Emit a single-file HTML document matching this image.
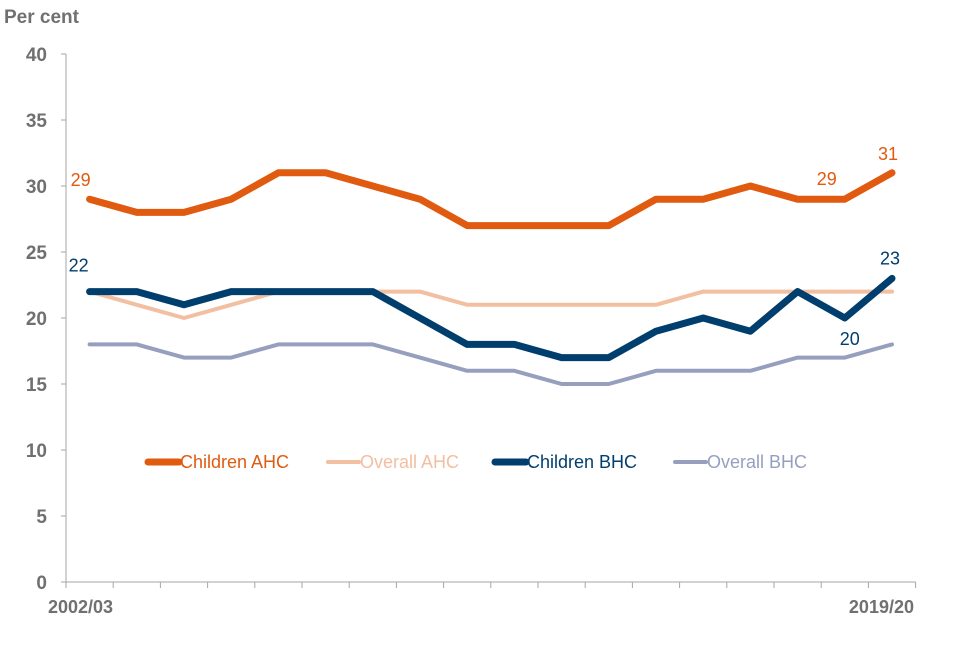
<!DOCTYPE html>
<html><head><meta charset="utf-8"><style>
body{margin:0;background:#fff;}
svg text{font-family:"Liberation Sans",Arial,sans-serif;}
</style></head><body>
<svg id="chart" width="960" height="640" xmlns="http://www.w3.org/2000/svg">
<text x="4" y="23" font-size="19" font-weight="bold" fill="#707070">Per cent</text>
<g id="yaxis"></g><g id="xaxis"></g><g id="series"></g><g id="legend"></g><g id="labels"></g>
</svg>
<script>
const categories=["2002/03","2003/04","2004/05","2005/06","2006/07","2007/08","2008/09","2009/10","2010/11","2011/12","2012/13","2013/14","2014/15","2015/16","2016/17","2017/18","2018/19","2019/20"];
const childrenAHC=[29,28,28,29,31,31,30,29,27,27,27,27,29,29,30,29,29,31];
const overallAHC=[22,21,20,21,22,22,22,22,21,21,21,21,21,22,22,22,22,22];
const childrenBHC=[22,22,21,22,22,22,22,20,18,18,17,17,19,20,19,22,20,23];
const overallBHC=[18,18,17,17,18,18,18,17,16,16,15,15,16,16,16,17,17,18];
const yTicks=[0,5,10,15,20,25,30,35,40];
const ns="http://www.w3.org/2000/svg";
const x0=66,x1=915.6,y0=582,y1=54;
const step=(x1-x0)/categories.length;
const X=i=>x0+step*(i+0.5);
const Y=v=>y0-(v/40)*(y0-y1);
function mk(t,a,p){const e=document.createElementNS(ns,t);for(const k in a)e.setAttribute(k,a[k]);p.appendChild(e);return e;}
const ya=document.getElementById('yaxis'),xa=document.getElementById('xaxis');
mk('line',{x1:x0,y1:y1,x2:x0,y2:y0,stroke:'#a6a6a6','stroke-width':1},ya);
yTicks.forEach(v=>{const t=mk('text',{x:47,y:Y(v)+7,'font-size':19,'font-weight':'bold',fill:'#707070','text-anchor':'end'},ya);t.textContent=v;


mk('line',{x1:x0-5,y1:Y(v),x2:x0,y2:Y(v),stroke:'#a6a6a6'},ya);});
mk('line',{x1:x0,y1:y0,x2:x1,y2:y0,stroke:'#a6a6a6'},xa);
for(let i=0;i<=categories.length;i++)mk('line',{x1:x0+step*i,y1:y0,x2:x0+step*i,y2:y0+6,stroke:'#a6a6a6'},xa);
[[0,'start',48],[categories.length-1,'end',914]].forEach(([i,a,xx])=>{const t=mk('text',{x:xx,y:613,'font-size':18,'font-weight':'bold',fill:'#707070','text-anchor':a},xa);t.textContent=categories[i];

});
const ser=[[overallAHC,'#f2bfa0',4,'overall-ahc-line'],[overallBHC,'#96a0be',4,'overall-bhc-line'],[childrenBHC,'#003e6e',7,'children-bhc-line'],[childrenAHC,'#e05a0f',7,'children-ahc-line']];
const sg=document.getElementById('series');
ser.forEach(([d,c,w,n])=>{const p=mk('polyline',{points:d.map((v,i)=>X(i)+','+Y(v)).join(' '),fill:'none',stroke:c,'stroke-width':w,'stroke-linejoin':'round','stroke-linecap':'round'},sg);

});
const lg=document.getElementById('legend');
[['Children AHC','#e05a0f',7,148],['Overall AHC','#f2bfa0',4,328],['Children BHC','#003e6e',7,495],['Overall BHC','#96a0be',4,675]].forEach(([t,c,w,x])=>{
const g=mk('g',{},lg);


mk('line',{x1:x,y1:462,x2:x+31,y2:462,stroke:c,'stroke-width':w,'stroke-linecap':'round'},g);
const tx=mk('text',{x:x+32,y:468,'font-size':18,fill:c},g);tx.textContent=t;});
const lb=document.getElementById('labels');
[[childrenAHC,0,-13,'#e05a0f',-9],[childrenBHC,0,-20,'#003e6e',-11],[childrenAHC,16,-14,'#e05a0f',-18],[childrenAHC,17,-13,'#e05a0f',-4],[childrenBHC,17,-14,'#003e6e',-2],[childrenBHC,16,27,'#003e6e',5]].forEach(([d,i,dy,c,dx])=>{
const t=mk('text',{x:X(i)+dx,y:Y(d[i])+dy,'font-size':18,fill:c,'text-anchor':'middle'},lb);t.textContent=d[i];

});
</script>
</body></html>
